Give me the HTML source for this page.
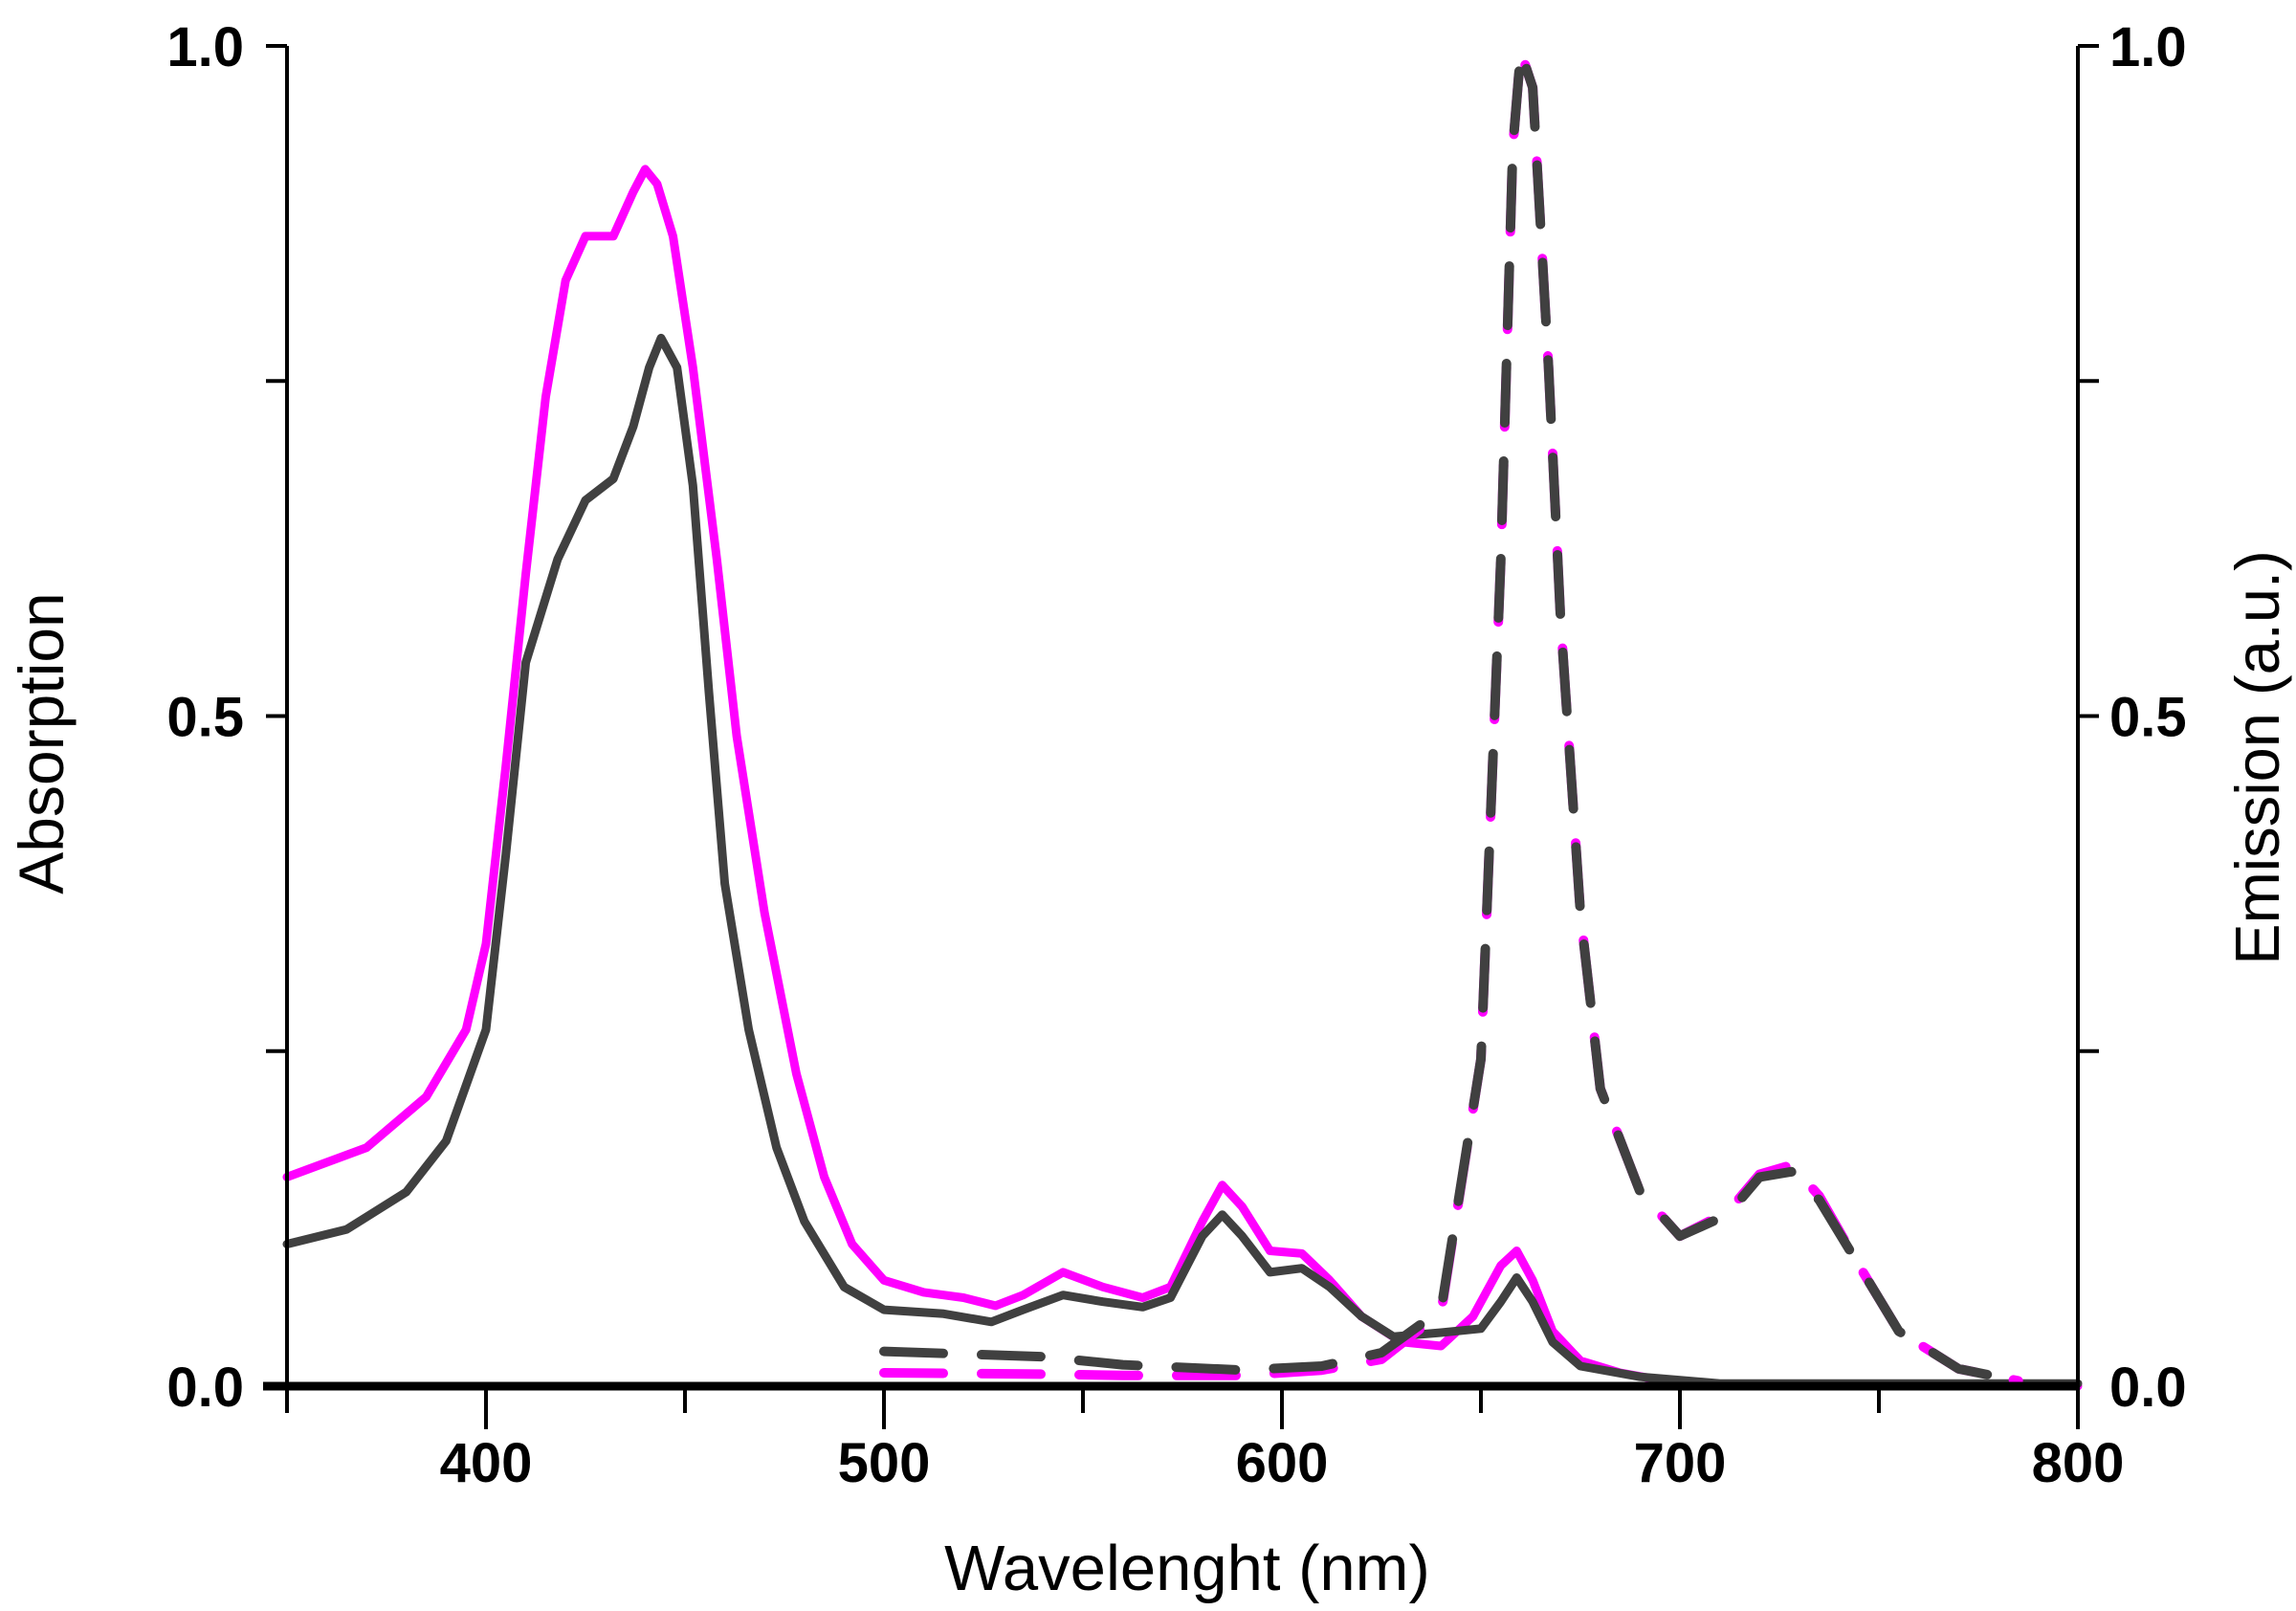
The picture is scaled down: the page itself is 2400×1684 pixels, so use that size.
<!DOCTYPE html>
<html><head><meta charset="utf-8"><style>
html,body{margin:0;padding:0;background:#fff}
svg{display:block}
text{font-family:"Liberation Sans",Arial,sans-serif}
</style></head><body>
<svg id="chart" width="2400" height="1684" viewBox="0 0 2400 1684" xmlns="http://www.w3.org/2000/svg"></svg>
<script>
const absWl = [350,370,385,395,400,405,410,415,420,425,432,437,440,443,447,452,458,463,470,478,485,492,500,510,520,528,535,545,555,565,572,580,585,590,597,605,612,620,630,640,648,655,659,663,668,675,685,700,720,800];
const absMagenta = [0.156,0.178,0.216,0.266,0.33,0.463,0.606,0.738,0.825,0.858,0.858,0.891,0.908,0.897,0.858,0.76,0.617,0.485,0.353,0.233,0.156,0.106,0.079,0.070,0.066,0.060,0.068,0.085,0.074,0.066,0.074,0.123,0.150,0.134,0.101,0.099,0.079,0.052,0.033,0.030,0.052,0.090,0.101,0.079,0.041,0.019,0.010,0.002,0,0];
const absDarkWl = [350,365,380,390,400,405,410,418,425,432,437,441,444,448,452,456,460,466,473,480,490,500,515,527,535,545,555,565,572,580,585,590,597,605,612,620,628,640,650,655,659,663,668,675,690,710,800];
const absDark = [0.106,0.117,0.145,0.183,0.266,0.397,0.540,0.617,0.661,0.677,0.716,0.760,0.782,0.760,0.672,0.518,0.375,0.266,0.178,0.123,0.074,0.057,0.054,0.048,0.057,0.068,0.063,0.059,0.066,0.112,0.128,0.112,0.085,0.088,0.074,0.052,0.037,0.040,0.043,0.063,0.081,0.063,0.033,0.015,0.007,0.002,0.002];
const emWl = [500,540,560,590,610,625,640,650,655,658,660,663,667,670,675,680,690,700,712,720,728,735,745,755,770,785];
const emDark = [0.026,0.022,0.016,0.012,0.015,0.025,0.057,0.244,0.617,0.924,0.996,0.969,0.760,0.573,0.353,0.222,0.145,0.112,0.128,0.156,0.160,0.139,0.090,0.041,0.013,0.004];
const emMagenta = [0.010,0.009,0.008,0.008,0.012,0.020,0.055,0.244,0.617,0.924,0.996,0.969,0.760,0.573,0.353,0.222,0.145,0.112,0.130,0.158,0.165,0.142,0.090,0.041,0.013,0.004];
const xTicks = [400,500,600,700,800];
const yTickLabels = ["0.0","0.5","1.0"];

const L=300,R=2172,T=48,B=1449;
const sx=v=>L+(v-350)/(800-350)*(R-L);
const sy=v=>B-v*(B-T);
const svg=document.getElementById('chart');
const NS='http://www.w3.org/2000/svg';
function mk(tag,attrs,parent){const e=document.createElementNS(NS,tag);for(const k in attrs)e.setAttribute(k,attrs[k]);(parent||svg).appendChild(e);return e;}
function line(x1,y1,x2,y2,w,name){const e=mk('line',{x1,y1,x2,y2,stroke:'#000','stroke-width':w});

return e;}
function txt(s,x,y,size,anchor,weight,name,extra){const e=mk('text',Object.assign({x,y,'font-size':size,'text-anchor':anchor,'font-weight':weight,fill:'#000'},extra||{}));e.textContent=s;

return e;}
function path(xs,ys,color,dash,name){const d=xs.map((x,i)=>(i?'L':'M')+sx(x).toFixed(1)+' '+sy(ys[i]).toFixed(1)).join(' ');
const e=mk('path',{d,fill:'none',stroke:color,'stroke-width':dash?10:9,'stroke-linejoin':'round','stroke-linecap':'round'});
if(dash)e.setAttribute('stroke-dasharray','62 40');

return e;}

path(absWl,absMagenta,'#ff00ff',false,'absorption-magenta-line');
path(absDarkWl,absDark,'#404040',false,'absorption-dark-line');
path(emWl,emMagenta,'#ff00ff',true,'emission-magenta-line');
path(emWl,emDark,'#404040',true,'emission-dark-line');

line(L,T,L,B,4,'left-y-axis');
line(R,T,R,B,4,'right-y-axis');
line(L-25,B,R,B,9,'x-axis');
for(let v=350;v<=800;v+=50){const major=v%100===0;line(sx(v),B,sx(v),B+(major?45:28),4,major?'x-major-tick':'x-minor-tick');}
xTicks.forEach(v=>txt(String(v),sx(v),B+100,58,'middle','bold','x-tick-label'));
[0.25,0.5,0.75,1.0].forEach(v=>{line(L-22,sy(v),L,sy(v),4,'left-y-tick');line(R,sy(v),R+22,sy(v),4,'right-y-tick');});
yTickLabels.forEach(s=>{const v=parseFloat(s);txt(s,255,sy(v)+21,58,'end','bold','left-y-tick-label');txt(s,2205,sy(v)+21,58,'start','bold','right-y-tick-label');});
txt('Wavelenght (nm)',1241,1662,67,'middle','normal','x-axis-title');
txt('Absorption',66,777,66,'middle','normal','left-y-axis-title',{transform:'rotate(-90 66 777)'});
txt('Emission (a.u.)',2382,792,65,'middle','normal','right-y-axis-title',{transform:'rotate(-90 2382 792)'});
</script>
</body></html>
